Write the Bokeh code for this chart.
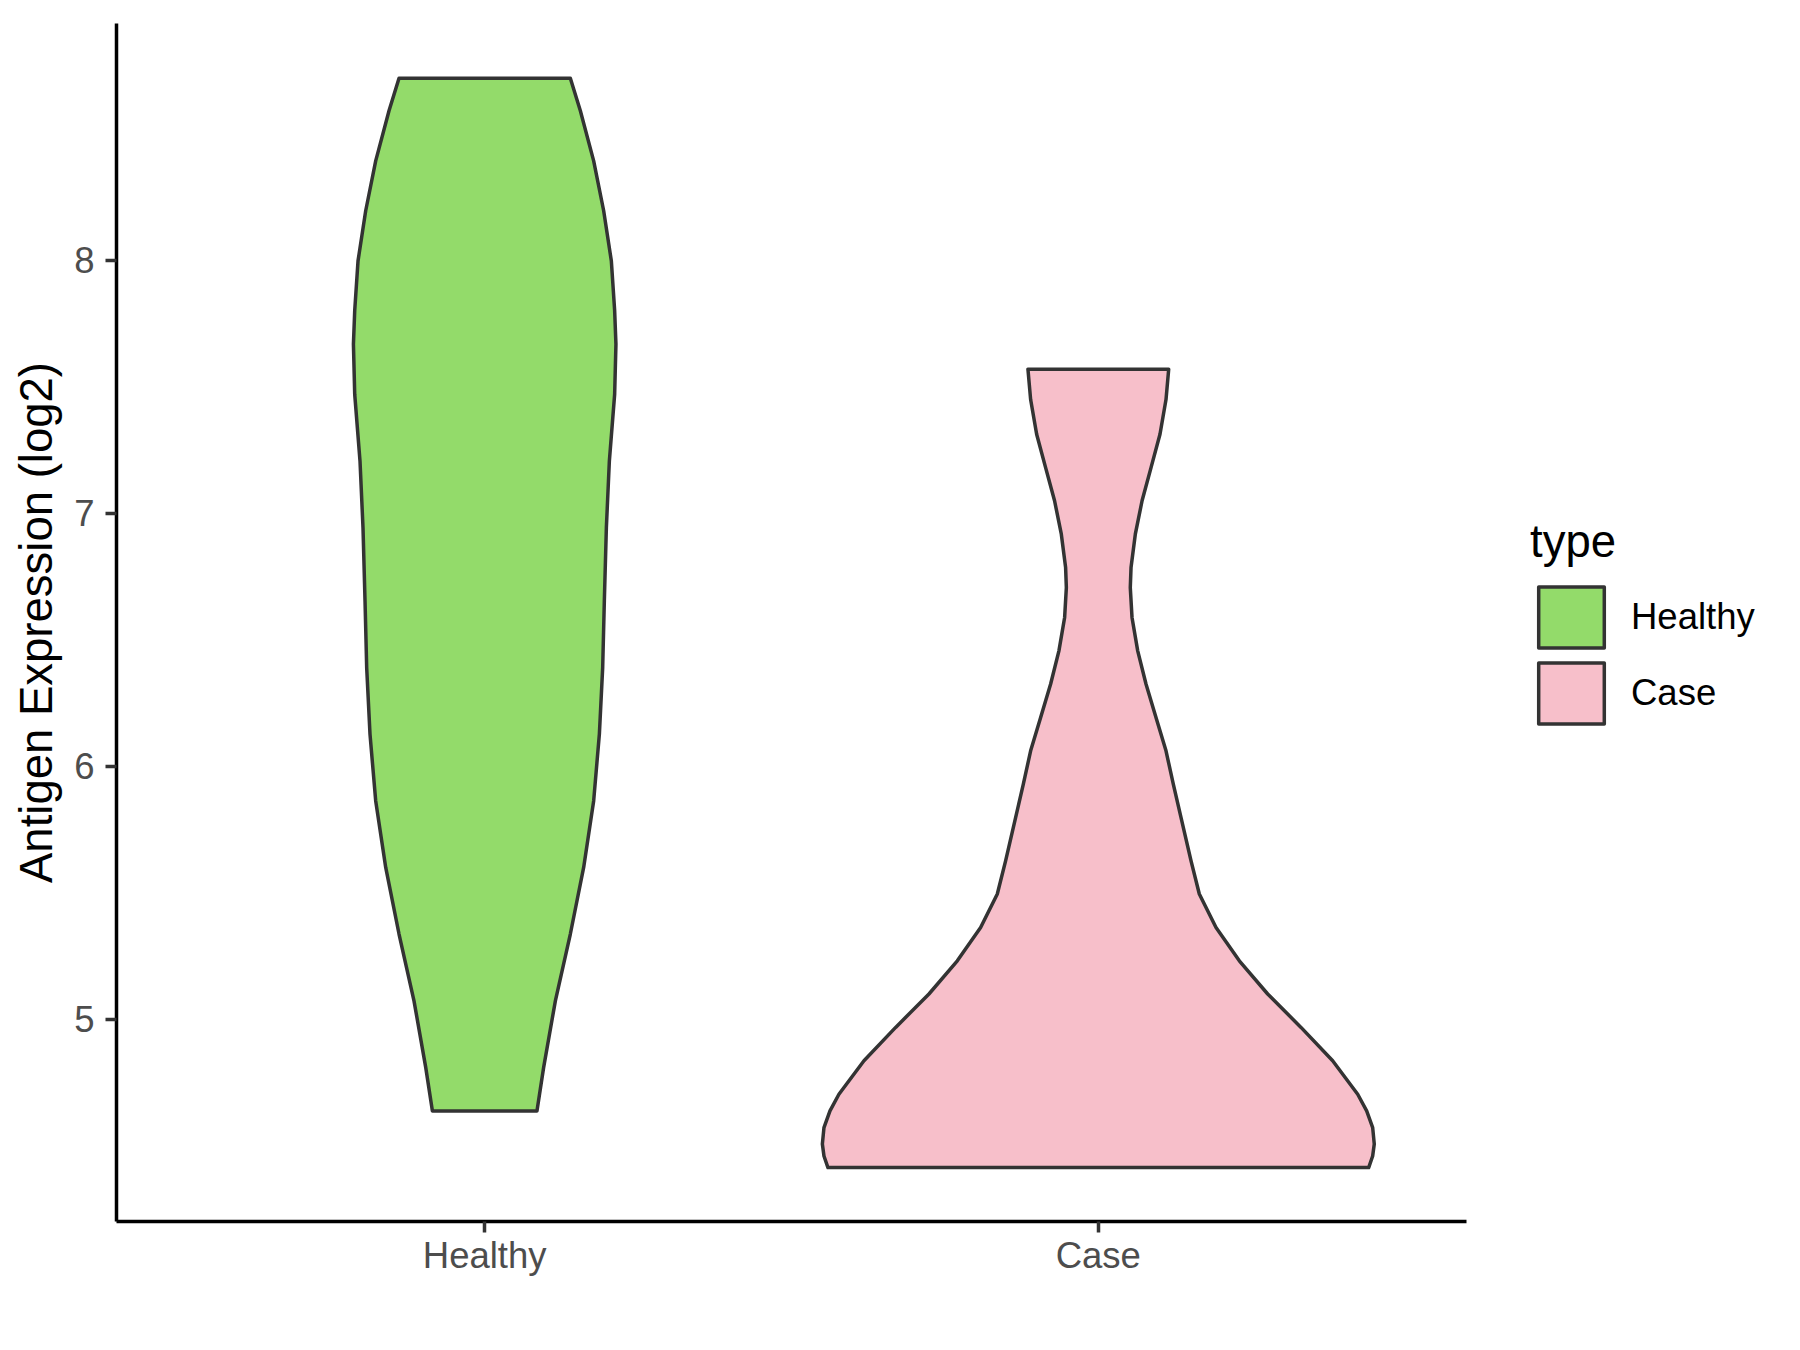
from bokeh.plotting import figure
from bokeh.models import Range1d, FixedTicker, Legend, LegendItem
from bokeh.embed import file_html
from bokeh.resources import INLINE

# ---- data ----
categories = ["Healthy", "Case"]
category_positions = [1, 2]
fill_colors = ["#93DB6A", "#F7BFCA"]
legend_title = "type"
y_axis_title = "Antigen Expression (log2)"
y_ticks = [5, 6, 7, 8]
y_limits = [4.201, 8.935]
x_limits = [0.4, 2.6]

# violin outlines: expression value and half-width (in category units)
healthy_values = [4.638, 4.810, 5.073, 5.337, 5.600, 5.863, 6.127, 6.390, 6.654,
                  6.943, 7.207, 7.470, 7.668, 7.800, 7.997, 8.195, 8.392, 8.590, 8.719]
healthy_halfwidth = [0.0852, 0.0961, 0.1152, 0.1396, 0.1613, 0.1776, 0.1869, 0.1923, 0.1950,
                     0.1983, 0.2032, 0.2118, 0.2139, 0.2118, 0.2064, 0.1939, 0.1776, 0.1559, 0.1396]

case_values = [4.414, 4.460, 4.507, 4.572, 4.638, 4.704, 4.836, 4.968, 5.100, 5.231, 5.363,
               5.495, 5.626, 5.797, 5.929, 6.061, 6.193, 6.325, 6.456, 6.588, 6.706,
               6.785, 6.917, 7.049, 7.180, 7.312, 7.449, 7.569]
case_halfwidth = [0.4406, 0.4471, 0.4497, 0.4471, 0.4373, 0.4227, 0.3819, 0.3303, 0.2760, 0.2298, 0.1918,
                  0.1646, 0.1511, 0.1348, 0.1222, 0.1103, 0.0940, 0.0777, 0.0642, 0.0549, 0.0521,
                  0.0533, 0.0603, 0.0713, 0.0859, 0.1005, 0.1103, 0.1147]

violins = [(healthy_values, healthy_halfwidth), (case_values, case_halfwidth)]

FONT = "Liberation Sans"

p = figure(frame_width=1350, frame_height=1198,
           x_range=Range1d(*x_limits), y_range=Range1d(*y_limits),
           output_backend="svg", toolbar_location=None,
           min_border_left=116, min_border_right=0,
           min_border_top=23, min_border_bottom=129)

p.outline_line_color = None
p.xgrid.grid_line_color = None
p.ygrid.grid_line_color = None
p.background_fill_color = "white"
p.border_fill_color = "white"

renderers = []
for pos, (vals, hw), color in zip(category_positions, violins, fill_colors):
    xs = [pos - w for w in hw] + [pos + w for w in reversed(hw)]
    ys = list(vals) + list(reversed(vals))
    r = p.patch(xs, ys, fill_color=color, line_color="#333333", line_width=3.5,
                line_join="round")
    renderers.append(r)

# axes
for ax in (p.xaxis, p.yaxis):
    ax.axis_line_color = "black"
    ax.axis_line_width = 3.5
    ax.major_tick_line_color = "#333333"
    ax.major_tick_line_width = 3.5
    ax.major_tick_in = 0
    ax.major_tick_out = 11
    ax.minor_tick_line_color = None
    ax.major_label_text_font = FONT
    ax.major_label_text_font_size = "36.5px"
    ax.major_label_text_color = "#4D4D4D"

p.xaxis.ticker = FixedTicker(ticks=category_positions)
p.xaxis.major_label_overrides = {pos: c for pos, c in zip(category_positions, categories)}
p.xaxis.major_label_standoff = 2

p.yaxis.ticker = FixedTicker(ticks=y_ticks)
p.yaxis.major_label_standoff = 11
p.yaxis.axis_label = y_axis_title
p.yaxis.axis_label_text_font = FONT
p.yaxis.axis_label_text_font_size = "45.5px"
p.yaxis.axis_label_text_font_style = "normal"
p.yaxis.axis_label_text_color = "black"
p.yaxis.axis_label_standoff = 9

legend = Legend(
    items=[LegendItem(label=c, renderers=[r]) for c, r in zip(categories, renderers)],
    title=legend_title,
    location=(64, 490),
    glyph_width=82, glyph_height=76, spacing=0,
    padding=0, margin=0, label_standoff=19,
    label_text_font=FONT, label_text_font_size="36.5px", label_text_color="black",
    title_text_font=FONT, title_text_font_size="45.5px", title_text_font_style="normal",
    title_text_color="black", title_standoff=11,
    border_line_color=None, background_fill_alpha=0,
)
p.add_layout(legend, "right")

open("out.html", "w").write(file_html(p, INLINE))
